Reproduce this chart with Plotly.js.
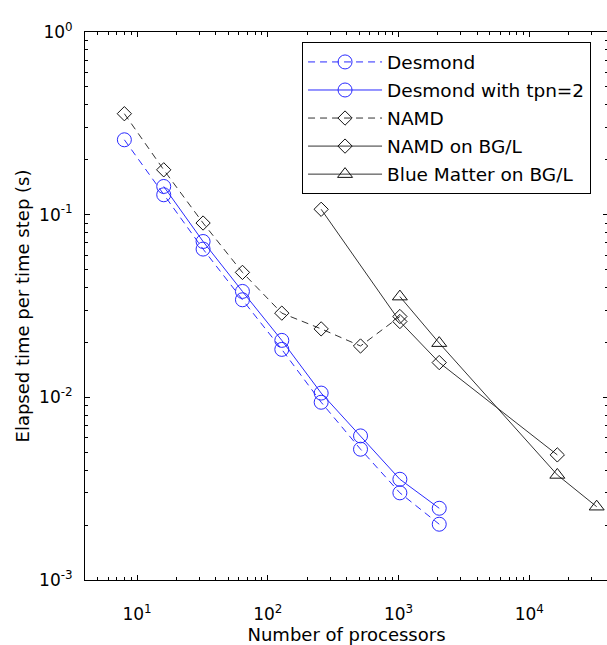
<!DOCTYPE html>
<html>
<head>
<meta charset="utf-8">
<script src="https://cdn.plot.ly/plotly-3.0.1.min.js"></script>
<style>html,body{margin:0;padding:0;background:#fff;overflow:hidden;}#chart{width:608px;height:645px;}</style>
</head>
<body>
<div id="chart"></div>
<script>
// ---- data ----
var desmondX = [8, 16, 32, 64, 128, 256, 512, 1024, 2048];
var desmondY = [0.257, 0.1285, 0.0648, 0.0342, 0.0183, 0.0094, 0.0052, 0.0030, 0.00202];

var desmondTpnX = [16, 32, 64, 128, 256, 512, 1024, 2048];
var desmondTpnY = [0.1427, 0.0713, 0.038, 0.0205, 0.01055, 0.00615, 0.00356, 0.00247];

var namdX = [8, 16, 32, 64, 128, 256, 512, 1024];
var namdY = [0.357, 0.176, 0.090, 0.0483, 0.0289, 0.0237, 0.0191, 0.0277];

var namdBglX = [256, 1024, 2048, 16384];
var namdBglY = [0.107, 0.026, 0.0155, 0.00484];

var blueMatterX = [1024, 2048, 16384, 32768];
var blueMatterY = [0.0356, 0.0198, 0.00376, 0.00252];

var seriesNames = ["Desmond", "Desmond with tpn=2", "NAMD", "NAMD on BG/L", "Blue Matter on BG/L"];

var xTickVals = [10, 100, 1000, 10000];
var xTickText = ["10<sup>1</sup>", "10<sup>2</sup>", "10<sup>3</sup>", "10<sup>4</sup>"];
var yTickVals = [0.001, 0.01, 0.1, 1];
var yTickText = ["10<sup>-3</sup>", "10<sup>-2</sup>", "10<sup>-1</sup>", "10<sup>0</sup>"];

var FONT = "DejaVu Sans, Liberation Sans, Arial, sans-serif";
var BLUE = "#2a2aff";
var BLACK = "#333333";

var traces = [
  {x: desmondX, y: desmondY, name: seriesNames[0], legendgroup: "g1", mode: "lines+markers",
   line: {color: BLUE, width: 1, dash: "7px,5px"},
   marker: {symbol: "circle-open", size: 14, color: BLUE, line: {width: 1}}},
  {x: desmondTpnX, y: desmondTpnY, name: seriesNames[1], legendgroup: "g2", mode: "lines+markers",
   line: {color: BLUE, width: 1},
   marker: {symbol: "circle-open", size: 14, color: BLUE, line: {width: 1}}},
  {x: namdX, y: namdY, name: seriesNames[2], legendgroup: "g3", mode: "lines+markers",
   line: {color: BLACK, width: 1, dash: "7px,5px"},
   marker: {symbol: "diamond-open", size: 11, color: "#111", line: {width: 1}}},
  {x: namdBglX, y: namdBglY, name: seriesNames[3], legendgroup: "g4", mode: "lines+markers",
   line: {color: BLACK, width: 1},
   marker: {symbol: "diamond-open", size: 11, color: "#111", line: {width: 1}}},
  {x: blueMatterX, y: blueMatterY, name: seriesNames[4], legendgroup: "g5", mode: "lines+markers",
   line: {color: BLACK, width: 1},
   marker: {symbol: "triangle-up-open", size: 13, color: "#111", line: {width: 1}}}
];

var axisCommon = {
  type: "log",
  showgrid: false,
  zeroline: false,
  showline: true,
  linecolor: "#000",
  linewidth: 1,
  mirror: "allticks",
  ticks: "inside",
  ticklen: 5,
  tickwidth: 1,
  tickcolor: "#000",
  tickmode: "array",
  tickfont: {family: FONT, size: 17, color: "#000"},
  minor: {ticks: "inside", ticklen: 3, tickwidth: 1, tickcolor: "#000", dtick: "D1", tickmode: "linear", showgrid: false}
};

var layout = {
  width: 608, height: 645,
  margin: {l: 85, r: 0, t: 32, b: 65},
  paper_bgcolor: "#fff", plot_bgcolor: "#fff",
  font: {family: FONT, size: 16, color: "#000"},
  showlegend: true,
  xaxis: Object.assign({}, axisCommon, {
    range: [Math.log10(4), Math.log10(40000)],
    tickvals: xTickVals, ticktext: xTickText,
    ticklabelstandoff: 19,
    title: {text: "Number of processors", font: {family: FONT, size: 18, color: "#000"}, standoff: 12}
  }),
  yaxis: Object.assign({}, axisCommon, {
    range: [-3, 0],
    tickvals: yTickVals, ticktext: yTickText,
    ticklabelstandoff: 8,
    title: {text: "Elapsed time per time step (s)", font: {family: FONT, size: 18, color: "#000"}, standoff: 4}
  }),
  legend: {
    x: 0.415, y: 0.981, xanchor: "left", yanchor: "top",
    bgcolor: "#fff", bordercolor: "#000", borderwidth: 1,
    font: {family: FONT, size: 18.5, color: "#000"},
    traceorder: "grouped", tracegroupgap: 1,
    itemwidth: 74
  }
};

Plotly.newPlot("chart", traces, layout, {displayModeBar: false, staticPlot: true});
</script>
</body>
</html>
